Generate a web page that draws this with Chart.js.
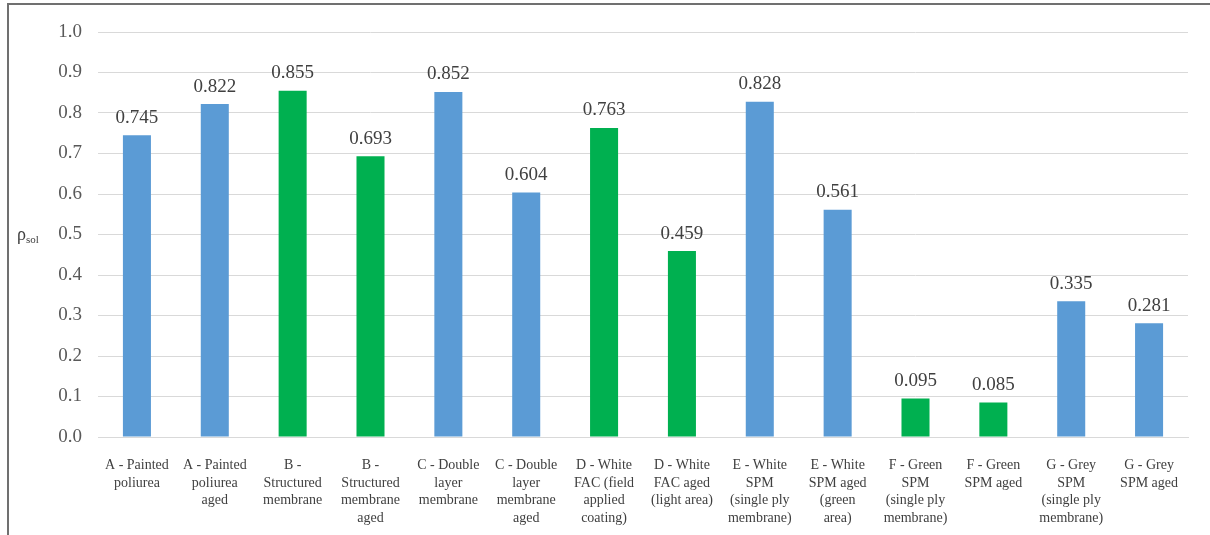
<!DOCTYPE html>
<html>
<head>
<meta charset="utf-8">
<script src="https://cdn.jsdelivr.net/npm/chart.js@4/dist/chart.umd.min.js"></script>
<style>
  html, body { margin: 0; padding: 0; background: #fff; }
  #wrap { position: relative; width: 1210px; height: 535px; }
  #frame { position: absolute; left: 7px; top: 3px; right: 0; bottom: 0;
           border-left: 2px solid #707070; border-top: 2px solid #707070; pointer-events: none; }
</style>
</head>
<body>
<div id="wrap">
  <canvas id="chartRho" width="1210" height="535"></canvas>
  <div id="frame"></div>
</div>
<script>
// categorías (etiquetas partidas en líneas como en la hoja)
const categorias = [
  ['A - Painted', 'poliurea'],
  ['A - Painted', 'poliurea', 'aged'],
  ['B -', 'Structured', 'membrane'],
  ['B -', 'Structured', 'membrane', 'aged'],
  ['C - Double', 'layer', 'membrane'],
  ['C - Double', 'layer', 'membrane', 'aged'],
  ['D - White', 'FAC (field', 'applied', 'coating)'],
  ['D - White', 'FAC aged', '(light area)'],
  ['E - White', 'SPM', '(single ply', 'membrane)'],
  ['E - White', 'SPM aged', '(green', 'area)'],
  ['F - Green', 'SPM', '(single ply', 'membrane)'],
  ['F - Green', 'SPM aged'],
  ['G - Grey', 'SPM', '(single ply', 'membrane)'],
  ['G - Grey', 'SPM aged']
];
const rhoSol = [0.745, 0.822, 0.855, 0.693, 0.852, 0.604, 0.763, 0.459, 0.828, 0.561, 0.095, 0.085, 0.335, 0.281];
const grupo = ['azul', 'azul', 'verde', 'verde', 'azul', 'azul', 'verde', 'verde', 'azul', 'azul', 'verde', 'verde', 'azul', 'azul'];
const yTicks = [0, 0.1, 0.2, 0.3, 0.4, 0.5, 0.6, 0.7, 0.8, 0.9, 1.0];

const COLORES = { azul: '#5B9BD5', verde: '#00B050' };
const SERIF = '"Liberation Serif", "Times New Roman", serif';

// etiquetas de valor encima de cada barra
const valoresPlugin = {
  id: 'valores',
  afterDatasetsDraw(chart) {
    const ctx = chart.ctx;
    const meta = chart.getDatasetMeta(0);
    ctx.save();
    ctx.font = '19px ' + SERIF;
    ctx.fillStyle = '#404040';
    ctx.textAlign = 'center';
    ctx.textBaseline = 'bottom';
    meta.data.forEach((bar, i) => {
      ctx.fillText(rhoSol[i].toFixed(3), bar.x, bar.y - 8);
    });
    ctx.restore();
  }
};

// título del eje Y: ρ con subíndice "sol"
const tituloYPlugin = {
  id: 'tituloY',
  afterDraw(chart) {
    const ctx = chart.ctx;
    const y = chart.scales.y.getPixelForValue(0.5);
    ctx.save();
    ctx.fillStyle = '#404040';
    ctx.textBaseline = 'alphabetic';
    ctx.font = '18px ' + SERIF;
    ctx.fillText('ρ', 17, y + 5);
    const w = ctx.measureText('ρ').width;
    ctx.font = '11px ' + SERIF;
    ctx.fillText('sol', 17 + w, y + 8);
    ctx.restore();
  }
};

const ctx = document.getElementById('chartRho').getContext('2d');
new Chart(ctx, {
  type: 'bar',
  data: {
    labels: categorias,
    datasets: [{
      data: rhoSol,
      backgroundColor: grupo.map(g => COLORES[g]),
      borderWidth: 0,
      barPercentage: 0.36,
      categoryPercentage: 1
    }]
  },
  options: {
    responsive: false,
    animation: false,
    layout: { padding: { top: 32, right: 22, left: 0, bottom: 0 } },
    plugins: { legend: { display: false }, tooltip: { enabled: false } },
    scales: {
      x: {
        grid: { display: false, drawTicks: false },
        border: { display: true, color: '#D9D9D9', width: 1 },
        ticks: {
          autoSkip: false, maxRotation: 0, minRotation: 0, padding: 20,
          color: '#404040', font: { family: SERIF, size: 14, lineHeight: 1.25 }
        },
        afterFit(scale) { scale.height = 98; }
      },
      y: {
        min: 0, max: 1,
        afterBuildTicks(scale) { scale.ticks = yTicks.map(v => ({ value: v })); },
        grid: { color: '#D9D9D9', drawTicks: false },
        border: { display: false },
        ticks: {
          padding: 16, color: '#595959',
          font: { family: SERIF, size: 19 },
          callback: v => Number(v).toFixed(1)
        },
        afterFit(scale) { scale.width = 98; }
      }
    }
  },
  plugins: [valoresPlugin, tituloYPlugin]
});
</script>
</body>
</html>
